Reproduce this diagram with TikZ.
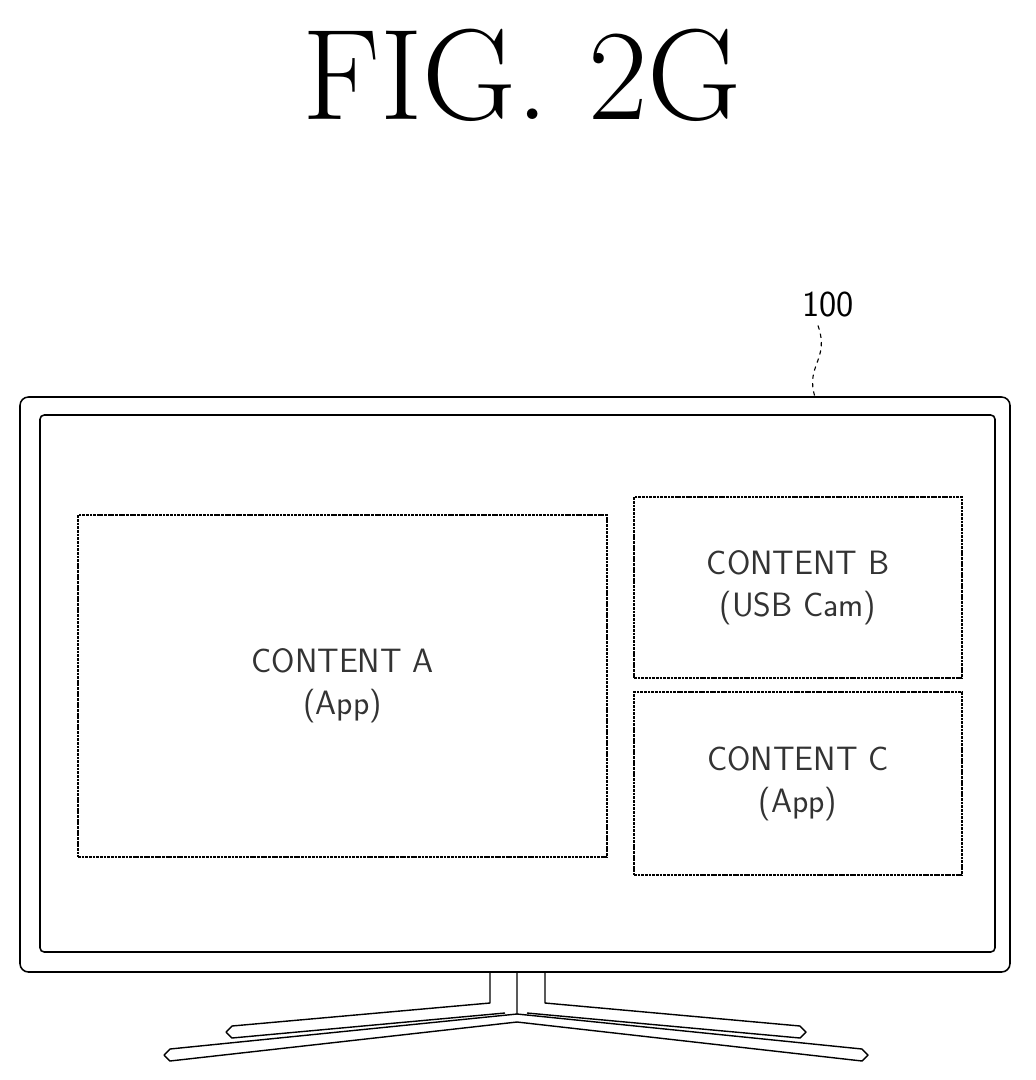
\documentclass[tikz,border=0pt]{standalone}
\usetikzlibrary{positioning}
\begin{document}
\begin{tikzpicture}[x=0.025cm, y=-0.025cm,
		% Styles
		frame/.style={draw=black, line width=1.1pt, rounded corners=6},
		panel/.style={draw=black, line width=1pt, densely dashed, dash pattern=on 2pt off 0.6pt},
		label/.style={font=\sffamily\fontsize{24}{30}\selectfont, align=center, text=black!80},
		stand/.style={draw=black, line width=1pt, line join=round},
		]
		\useasboundingbox (0,0) rectangle (1036,1080);

		% Title
		\node[font=\fontsize{92}{100}\selectfont] (title) at (522,75) {FIG.\ 2G};

		% Television frame
		\draw[frame] (20,397) rectangle (1010,972);
		\draw[frame, rounded corners=3] (40,415) rectangle (995,952);
		\coordinate (tvtop) at (815,397);

		% Reference number
		\node[font=\sffamily\fontsize{26}{30}\selectfont] (num) at (828,305) {100};
		\draw[line width=0.8pt, dashed] (num.south) ++(-10,3) .. controls (830,360) and (805,365) .. (tvtop);

		% Contents
		\node[panel, minimum width=529*0.025cm, minimum height=342*0.025cm, label] (contA) at (342.5,686) {CONTENT A\\(App)};
		\node[panel, minimum width=328*0.025cm, minimum height=181*0.025cm, label] (contB) at (798,587.5) {CONTENT B\\(USB Cam)};
		\node[panel, minimum width=328*0.025cm, minimum height=183*0.025cm, label] (contC) at (798,783.5) {CONTENT C\\(App)};

		% Stand
		\draw[stand] (490,972) -- (490,1003) -- (232,1026) -- (226,1032) -- (232,1038) -- (505,1013);
		\draw[stand] (545,972) -- (545,1003) -- (800,1026) -- (806,1032) -- (800,1038) -- (527,1013);
		\draw[stand] (517,972) -- (517,1014) -- (170,1049) -- (164,1055) -- (170,1061) -- (517,1022)
			-- (862,1061) -- (868,1055) -- (862,1049) -- (517,1014);
	\end{tikzpicture}
\end{document}
